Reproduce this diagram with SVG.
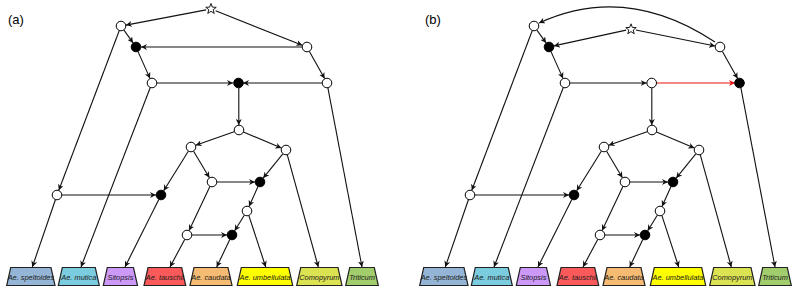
<svg xmlns="http://www.w3.org/2000/svg" xmlns:xlink="http://www.w3.org/1999/xlink" width="793" height="287" viewBox="0 0 793 287">
<style>
.e{fill:none;stroke:#111;stroke-width:1.1;marker-end:url(#ah)}
.er{fill:none;stroke:#ee1111;stroke-width:1.1;marker-end:url(#ahr)}
.o{fill:#fff;stroke:#000;stroke-width:1}
.b{fill:#000;stroke:#000;stroke-width:1}
.st{fill:#fff;stroke:#000;stroke-width:0.9}
.lab polygon{stroke:#222;stroke-width:1.2}
.lab text{font-family:"Liberation Sans",Arial,sans-serif;font-style:italic;font-size:7.4px;fill:#1a1a1a;text-anchor:middle}
.pl{font-family:"Liberation Sans",Arial,sans-serif;font-size:13px;fill:#000}
</style>
<defs>
<marker id="ah" viewBox="0 0 10 10" refX="10" refY="5" markerWidth="6" markerHeight="6" markerUnits="userSpaceOnUse" orient="auto"><path d="M0,0 L10,5 L0,10 L3,5 z" fill="#111"/></marker>
<marker id="ahr" viewBox="0 0 10 10" refX="10" refY="5" markerWidth="6" markerHeight="6" markerUnits="userSpaceOnUse" orient="auto"><path d="M0,0 L10,5 L0,10 L3,5 z" fill="#ee1111"/></marker>
<polygon id="star" points="0,-5.5 1.35,-1.86 5.23,-1.7 2.19,0.71 3.23,4.45 0,2.3 -3.23,4.45 -2.19,0.71 -5.23,-1.7 -1.35,-1.86"/>
</defs>

<text class="pl" x="8" y="24">(a)</text>
<text class="pl" x="425" y="24">(b)</text>

<!-- Panel (a) -->
<g id="panel-a">
<g id="a-edges">
<line class="e" x1="206.1" y1="9.9" x2="125.9" y2="25.1"/>
<line class="e" x1="215.6" y1="10.8" x2="302.3" y2="45.2"/>
<line class="e" x1="123.9" y1="30.1" x2="133.1" y2="42.9"/>
<line class="e" x1="302" y1="47" x2="141" y2="47"/>
<line class="e" x1="119.2" y1="30.7" x2="58.8" y2="190.3"/>
<line class="e" x1="138" y1="51.6" x2="150" y2="78.4"/>
<line class="e" x1="309.4" y1="51.4" x2="324.6" y2="78.6"/>
<line class="e" x1="157" y1="83" x2="233" y2="83"/>
<line class="e" x1="322" y1="83" x2="243" y2="83"/>
<line class="e" x1="150.2" y1="87.7" x2="81" y2="267"/>
<line class="e" x1="238.8" y1="88" x2="238.8" y2="125"/>
<line class="e" x1="327.9" y1="87.9" x2="362" y2="267"/>
<line class="e" x1="234.1" y1="131.7" x2="195.7" y2="145.3"/>
<line class="e" x1="243.4" y1="132" x2="281.4" y2="148"/>
<line class="e" x1="188.3" y1="151.2" x2="163.7" y2="190.8"/>
<line class="e" x1="193.6" y1="151.3" x2="209.4" y2="177.7"/>
<line class="e" x1="282.8" y1="153.9" x2="263.2" y2="178.1"/>
<line class="e" x1="287.3" y1="154.8" x2="318.3" y2="267"/>
<line class="e" x1="217" y1="182" x2="255" y2="182"/>
<line class="e" x1="209.9" y1="186.5" x2="189.1" y2="230.5"/>
<line class="e" x1="258" y1="186.6" x2="249" y2="206.4"/>
<line class="e" x1="62" y1="195" x2="156" y2="195"/>
<line class="e" x1="55.4" y1="199.7" x2="32.3" y2="267"/>
<line class="e" x1="158.8" y1="199.5" x2="125" y2="267"/>
<line class="e" x1="244.3" y1="215.2" x2="234.7" y2="230.8"/>
<line class="e" x1="248.9" y1="215.7" x2="265.7" y2="267"/>
<line class="e" x1="192" y1="235" x2="227" y2="235"/>
<line class="e" x1="184.7" y1="239.4" x2="170" y2="267"/>
<line class="e" x1="229.8" y1="239.5" x2="216.7" y2="267"/>
</g>
<g id="a-S"><use xlink:href="#star" class="st" x="211" y="9"/></g>
<g id="a-A"><circle class="o" cx="121" cy="26" r="4.8"/></g>
<g id="a-B"><circle class="b" cx="136" cy="47" r="4.8"/></g>
<g id="a-C"><circle class="o" cx="307" cy="47" r="4.8"/></g>
<g id="a-D"><circle class="o" cx="152" cy="83" r="4.8"/></g>
<g id="a-E"><circle class="b" cx="238.5" cy="83" r="4.8"/></g>
<g id="a-F"><circle class="o" cx="327" cy="83" r="4.8"/></g>
<g id="a-G"><circle class="o" cx="239" cy="130" r="4.8"/></g>
<g id="a-H"><circle class="o" cx="191" cy="147" r="4.8"/></g>
<g id="a-I"><circle class="o" cx="286" cy="150" r="4.8"/></g>
<g id="a-J"><circle class="o" cx="212" cy="182" r="4.8"/></g>
<g id="a-K"><circle class="b" cx="260" cy="182" r="4.8"/></g>
<g id="a-L"><circle class="o" cx="57" cy="195" r="4.8"/></g>
<g id="a-M"><circle class="b" cx="161" cy="195" r="4.8"/></g>
<g id="a-N"><circle class="o" cx="247" cy="211" r="4.8"/></g>
<g id="a-O"><circle class="o" cx="187" cy="235" r="4.8"/></g>
<g id="a-P"><circle class="b" cx="232" cy="235" r="4.8"/></g>
<g id="a-spel" class="lab"><polygon fill="#95b5d6" points="10.7,267.5 51,267.5 55,285.5 6.7,285.5"/><text x="30.9" y="279.5">Ae. speltoides</text></g>
<g id="a-mutica" class="lab"><polygon fill="#7ccce0" points="62.3,267.5 95.3,267.5 99.3,285.5 58.3,285.5"/><text x="78.8" y="279.5">Ae. mutica</text></g>
<g id="a-sitopsis" class="lab"><polygon fill="#cc99f8" points="107.3,267.5 133.5,267.5 137.5,285.5 103.3,285.5"/><text x="120.4" y="279.5">Sitopsis</text></g>
<g id="a-tauschii" class="lab"><polygon fill="#fa5a5a" points="148,267.5 181.7,267.5 185.7,285.5 144,285.5"/><text x="164.9" y="279.5">Ae. tauschii</text></g>
<g id="a-caudata" class="lab"><polygon fill="#f5bb72" points="194,267.5 228,267.5 232,285.5 190,285.5"/><text x="211" y="279.5">Ae. caudata</text></g>
<g id="a-umbellulata" class="lab"><polygon fill="#ffff00" points="241.3,267.5 288.7,267.5 292.7,285.5 237.3,285.5"/><text x="265" y="279.5">Ae. umbellulata</text></g>
<g id="a-comopyrum" class="lab"><polygon fill="#dce352" points="300.7,267.5 338,267.5 342,285.5 296.7,285.5"/><text x="319.4" y="279.5">Comopyrum</text></g>
<g id="a-triticum" class="lab"><polygon fill="#a2cd6c" points="349.7,267.5 374.3,267.5 378.3,285.5 345.7,285.5"/><text x="362" y="279.5">Triticum</text></g>
</g>

<!-- Panel (b) -->
<g id="panel-b" transform="translate(413,0)">
<g id="b-edges">
<line class="e" x1="213.1" y1="30.1" x2="140.9" y2="45.9"/>
<line class="e" x1="222.9" y1="30" x2="302.1" y2="46"/>
<path class="e" d="M302,42 Q213,-17 126,23"/>
<line class="e" x1="123.9" y1="30.1" x2="133.1" y2="42.9"/>
<line class="e" x1="119.2" y1="30.7" x2="58.8" y2="190.3"/>
<line class="e" x1="138" y1="51.6" x2="150" y2="78.4"/>
<line class="e" x1="309.4" y1="51.4" x2="324.6" y2="78.6"/>
<line class="e" x1="157" y1="83" x2="233.7" y2="83"/>
<line class="er" x1="243.7" y1="83" x2="322" y2="83"/>
<line class="e" x1="150.2" y1="87.7" x2="81" y2="267"/>
<line class="e" x1="238.8" y1="88" x2="238.8" y2="125"/>
<line class="e" x1="327.9" y1="87.9" x2="362" y2="267"/>
<line class="e" x1="234.1" y1="131.7" x2="195.7" y2="145.3"/>
<line class="e" x1="243.4" y1="132" x2="281.4" y2="148"/>
<line class="e" x1="188.3" y1="151.2" x2="163.7" y2="190.8"/>
<line class="e" x1="193.6" y1="151.3" x2="209.4" y2="177.7"/>
<line class="e" x1="282.8" y1="153.9" x2="263.2" y2="178.1"/>
<line class="e" x1="287.3" y1="154.8" x2="318.3" y2="267"/>
<line class="e" x1="217" y1="182" x2="255" y2="182"/>
<line class="e" x1="209.9" y1="186.5" x2="189.1" y2="230.5"/>
<line class="e" x1="258" y1="186.6" x2="249" y2="206.4"/>
<line class="e" x1="62" y1="195" x2="156" y2="195"/>
<line class="e" x1="55.4" y1="199.7" x2="32.3" y2="267"/>
<line class="e" x1="158.8" y1="199.5" x2="125" y2="267"/>
<line class="e" x1="244.3" y1="215.2" x2="234.7" y2="230.8"/>
<line class="e" x1="248.9" y1="215.7" x2="265.7" y2="267"/>
<line class="e" x1="192" y1="235" x2="227" y2="235"/>
<line class="e" x1="184.7" y1="239.4" x2="170" y2="267"/>
<line class="e" x1="229.8" y1="239.5" x2="216.7" y2="267"/>
</g>
<g id="b-S"><use xlink:href="#star" class="st" x="218" y="29.3"/></g>
<g id="b-A"><circle class="o" cx="121" cy="26" r="4.8"/></g>
<g id="b-B"><circle class="b" cx="136" cy="47" r="4.8"/></g>
<g id="b-C"><circle class="o" cx="307" cy="47" r="4.8"/></g>
<g id="b-D"><circle class="o" cx="152" cy="83" r="4.8"/></g>
<g id="b-E"><circle class="o" cx="238.7" cy="83" r="4.8"/></g>
<g id="b-F"><circle class="b" cx="326.5" cy="83" r="4.8"/></g>
<g id="b-G"><circle class="o" cx="239" cy="130" r="4.8"/></g>
<g id="b-H"><circle class="o" cx="191" cy="147" r="4.8"/></g>
<g id="b-I"><circle class="o" cx="286" cy="150" r="4.8"/></g>
<g id="b-J"><circle class="o" cx="212" cy="182" r="4.8"/></g>
<g id="b-K"><circle class="b" cx="260" cy="182" r="4.8"/></g>
<g id="b-L"><circle class="o" cx="57" cy="195" r="4.8"/></g>
<g id="b-M"><circle class="b" cx="161" cy="195" r="4.8"/></g>
<g id="b-N"><circle class="o" cx="247" cy="211" r="4.8"/></g>
<g id="b-O"><circle class="o" cx="187" cy="235" r="4.8"/></g>
<g id="b-P"><circle class="b" cx="232" cy="235" r="4.8"/></g>
<g id="b-spel" class="lab"><polygon fill="#95b5d6" points="10.7,267.5 51,267.5 55,285.5 6.7,285.5"/><text x="30.9" y="279.5">Ae. speltoides</text></g>
<g id="b-mutica" class="lab"><polygon fill="#7ccce0" points="62.3,267.5 95.3,267.5 99.3,285.5 58.3,285.5"/><text x="78.8" y="279.5">Ae. mutica</text></g>
<g id="b-sitopsis" class="lab"><polygon fill="#cc99f8" points="107.3,267.5 133.5,267.5 137.5,285.5 103.3,285.5"/><text x="120.4" y="279.5">Sitopsis</text></g>
<g id="b-tauschii" class="lab"><polygon fill="#fa5a5a" points="148,267.5 181.7,267.5 185.7,285.5 144,285.5"/><text x="164.9" y="279.5">Ae. tauschii</text></g>
<g id="b-caudata" class="lab"><polygon fill="#f5bb72" points="194,267.5 228,267.5 232,285.5 190,285.5"/><text x="211" y="279.5">Ae. caudata</text></g>
<g id="b-umbellulata" class="lab"><polygon fill="#ffff00" points="241.3,267.5 288.7,267.5 292.7,285.5 237.3,285.5"/><text x="265" y="279.5">Ae. umbellulata</text></g>
<g id="b-comopyrum" class="lab"><polygon fill="#dce352" points="300.7,267.5 338,267.5 342,285.5 296.7,285.5"/><text x="319.4" y="279.5">Comopyrum</text></g>
<g id="b-triticum" class="lab"><polygon fill="#a2cd6c" points="349.7,267.5 374.3,267.5 378.3,285.5 345.7,285.5"/><text x="362" y="279.5">Triticum</text></g>
</g>
</svg>
